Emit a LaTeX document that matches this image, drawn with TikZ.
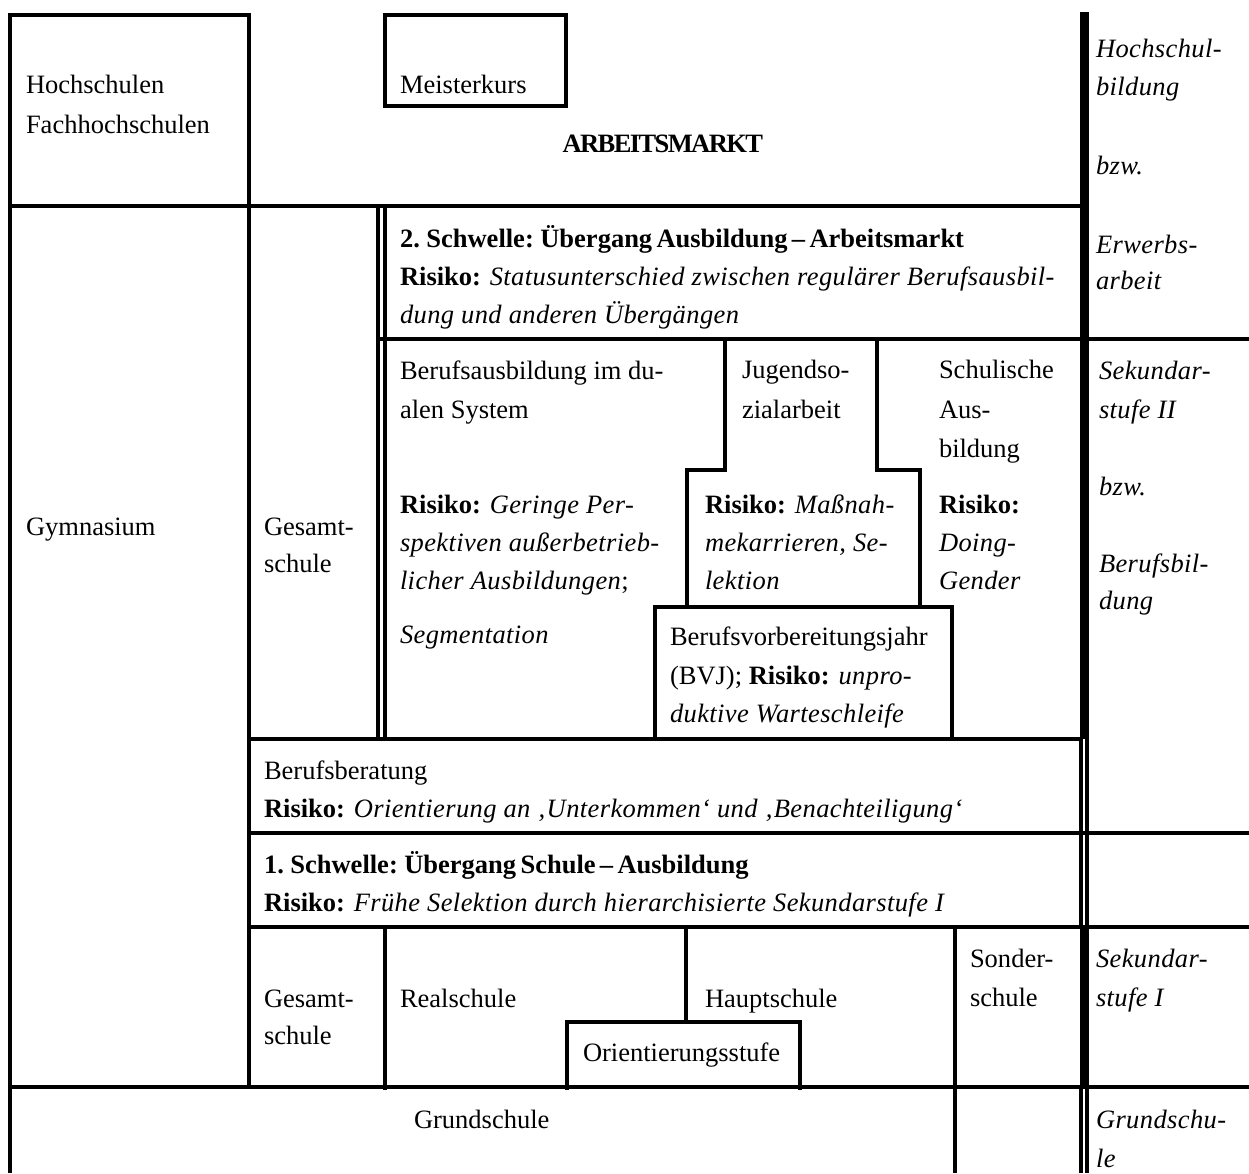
\documentclass[tikz,border=0pt]{standalone}
\usepackage{fontspec}
\setmainfont{Liberation Serif}[ItalicFeatures={LetterSpace=1.5},BoldFeatures={WordSpace=0.65}]
\newcommand{\rk}{\textbf{Risiko:}}
\begin{document}
\begin{tikzpicture}[x=1pt,y=-1pt,line width=4pt,
  font=\fontsize{26.5}{39}\selectfont,
  t/.style={anchor=base west,inner sep=0pt},
  ti/.style={t,font=\fontsize{26.5}{39}\selectfont\itshape},
  thick8/.style={line width=8.5pt},
  dbl/.style={line width=4pt}]
\useasboundingbox (0,0) rectangle (1249,1173);
% ---- lines ----
\draw (10,15) rectangle (249,206);
\draw (385,15) rectangle (566,106);
% right border
\draw[thick8] (1084.5,12) -- (1084.5,738.5);
\draw[dbl] (1080.5,736.5) -- (1080.5,928);
\draw[dbl] (1087,736.5) -- (1087,928);
\draw[thick8] (1084.5,926.5) -- (1084.5,1087);
\draw[dbl] (1080.5,1085) -- (1080.5,1173);
\draw[dbl] (1087,1085) -- (1087,1173);
% horizontals and verticals
\draw (10,206) -- (1084.5,206);
\draw (10,15) -- (10,1173);
\draw (249,15) -- (249,1087);
\draw (378,206) -- (378,738.5);
\draw (385,206) -- (385,738.5);
\draw (378,338.5) -- (1249,338.5);
\draw (724.5,338.5) -- (724.5,469.5) -- (686.5,469.5) -- (686.5,606.5);
\draw (876.5,338.5) -- (876.5,470) -- (920,470) -- (920,606.5);
\draw (654.5,738.5) -- (654.5,606.5) -- (952,606.5) -- (952,738.5);
\draw (249,738.5) -- (1080.5,738.5);
\draw (249,832.5) -- (1249,832.5);
\draw (249,926.5) -- (1249,926.5);
\draw (385,926.5) -- (385,1090);
\draw (686,926.5) -- (686,1022);
\draw (954.5,926.5) -- (954.5,1173);
\draw (566.5,1090) -- (566.5,1022) -- (800,1022) -- (800,1090);
\draw (10,1087) -- (1249,1087);
% ---- texts ----
\node[t] (hs) at (24,93) {Hochschulen};
\node[t] (fhs) at (24,133) {Fachhochschulen};
\node[t] (mk) at (398,93) {Meisterkurs};
\node[t,anchor=base] (am) at (662,152) {\textbf{\addfontfeatures{LetterSpace=-6}ARBEITSMARKT}};
% right column
\node[ti] (r1) at (1094,57) {Hochschul-};
\node[ti] (r2) at (1094,95) {bildung};
\node[ti] (r3) at (1094,174) {bzw.};
\node[ti] (r4) at (1094,253) {Erwerbs-};
\node[ti] (r5) at (1094,289) {arbeit};
\node[ti] (r6) at (1097,379) {Sekundar-};
\node[ti] (r7) at (1097,418) {stufe II};
\node[ti] (r8) at (1097,495) {bzw.};
\node[ti] (r9) at (1097,572) {Berufsbil-};
\node[ti] (r10) at (1097,609) {dung};
\node[ti] (r11) at (1094,967) {Sekundar-};
\node[ti] (r12) at (1094,1006) {stufe I};
\node[ti] (r13) at (1094,1128) {Grundschu-};
\node[ti] (r14) at (1094,1167) {le};
% 2. Schwelle
\node[t] (s2a) at (398,247) {\textbf{2. Schwelle: Übergang Ausbildung – Arbeitsmarkt}};
\node[t] (s2b) at (398,285) {\rk{} \textit{Statusunterschied zwischen regulärer Berufsausbil-}};
\node[t] (s2c) at (398,323) {\textit{dung und anderen Übergängen}};
% left
\node[t] (gy) at (24,535) {Gymnasium};
\node[t] (gs1) at (262,535) {Gesamt-};
\node[t] (gs2) at (262,572) {schule};
% Berufsausbildung
\node[t] (ba1) at (398,379) {Berufsausbildung im du-};
\node[t] (ba2) at (398,418) {alen System};
\node[t] (ba3) at (398,513) {\rk{} \textit{Geringe Per-}};
\node[t] (ba4) at (398,551) {\textit{spektiven außerbetrieb-}};
\node[t] (ba5) at (398,589) {\textit{licher Ausbildungen};};
\node[t] (ba6) at (398,643) {\textit{Segmentation}};
% Jugendsozialarbeit
\node[t] (js1) at (740,378) {Jugendso-};
\node[t] (js2) at (740,418) {zialarbeit};
\node[t] (js3) at (703,513) {\rk{} \textit{Maßnah-}};
\node[t] (js4) at (703,551) {\textit{mekarrieren, Se-}};
\node[t] (js5) at (703,589) {\textit{lektion}};
% Schulische Ausbildung
\node[t] (sa1) at (937,378) {Schulische};
\node[t] (sa2) at (937,418) {Aus-};
\node[t] (sa3) at (937,457) {bildung};
\node[t] (sa4) at (937,513) {\rk};
\node[t] (sa5) at (937,551) {\textit{Doing-}};
\node[t] (sa6) at (937,589) {\textit{Gender}};
% BVJ
\node[t] (bv1) at (668,645) {Berufsvorbereitungsjahr};
\node[t] (bv2) at (668,684) {(BVJ); \rk{} \textit{unpro-}};
\node[t] (bv3) at (668,722) {\textit{duktive Warteschleife}};
% Berufsberatung
\node[t] (bb1) at (262,779) {Berufsberatung};
\node[t] (bb2) at (262,817) {\rk{} \textit{Orientierung an ‚Unterkommen‘ und ‚Benachteiligung‘}};
% 1. Schwelle
\node[t] (s1a) at (262,873) {\textbf{1. Schwelle: Übergang Schule – Ausbildung}};
\node[t] (s1b) at (262,911) {\rk{} \textit{Frühe Selektion durch hierarchisierte Sekundarstufe I}};
% Sek I
\node[t] (g1) at (262,1007) {Gesamt-};
\node[t] (g2) at (262,1044) {schule};
\node[t] (rs) at (398,1007) {Realschule};
\node[t] (hps) at (703,1007) {Hauptschule};
\node[t] (so1) at (968,967) {Sonder-};
\node[t] (so2) at (968,1006) {schule};
\node[t] (os) at (581,1061) {Orientierungsstufe};
\node[t] (gr) at (412,1128) {Grundschule};
\end{tikzpicture}
\end{document}
